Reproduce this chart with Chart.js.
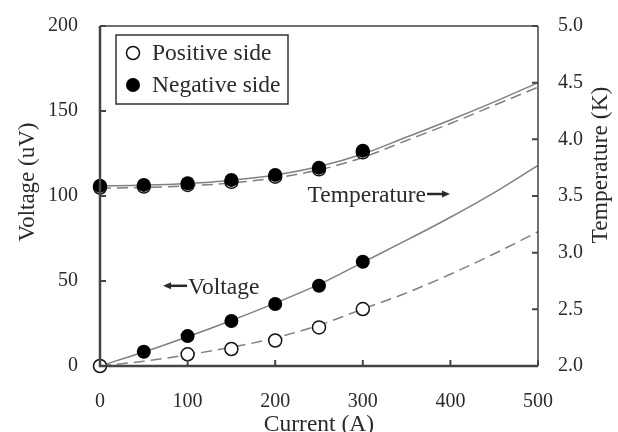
<!DOCTYPE html>
<html>
<head>
<meta charset="utf-8">
<script src="https://cdn.jsdelivr.net/npm/chart.js@4"></script>
<style>
  html, body { margin: 0; padding: 0; background: #fff; }
  #wrap { width: 618px; height: 432px; position: relative; }
</style>
</head>
<body>
<div id="wrap"><canvas id="myChart"></canvas></div>
<script>
// measured points
var currentPts = [0, 50, 100, 150, 200, 250, 300];
var negVoltage = [null, 8.4, 17.6, 26.5, 36.5, 47.2, 61.3];
var posVoltage = [0, null, 6.9, 10, 15, 22.7, 33.5];
var negTemp = [3.59, 3.598, 3.613, 3.642, 3.686, 3.75, 3.9];
var posTemp = [3.575, 3.583, 3.598, 3.625, 3.67, 3.735, 3.885];

// fitted curves
var currentFit = [0, 50, 100, 150, 200, 250, 300, 350, 400, 450, 500];
var negVoltFit = [0, 8.2, 17.2, 26.8, 37, 48, 61, 74, 87.5, 102, 118];
var posVoltFit = [0, 2.8, 6.6, 11, 16.5, 24, 33.5, 43, 54, 66, 79];
var negTempFit = [3.59, 3.595, 3.61, 3.64, 3.685, 3.76, 3.87, 4.02, 4.17, 4.33, 4.5];
var posTempFit = [3.57, 3.575, 3.59, 3.615, 3.66, 3.73, 3.84, 3.99, 4.14, 4.3, 4.46];

var xTicks = [0, 100, 200, 300, 400, 500];
var yTicks = [0, 50, 100, 150, 200];
var y2Ticks = [2.0, 2.5, 3.0, 3.5, 4.0, 4.5, 5.0];

var serif = '"Liberation Serif", "Times New Roman", serif';
var ink = '#2a2a2a';
var axisCol = '#444';
var curveCol = '#808080';

function pts(xs, ys) {
    var out = [];
    for (var i = 0; i < xs.length; i++) {
        if (ys[i] !== null) out.push({ x: xs[i], y: ys[i] });
    }
    return out;
}

function tickOpts(fmt, pad) {
    return {
        color: ink,
        font: { family: serif, size: 20 },
        autoSkip: false,
        maxRotation: 0,
        padding: pad,
        callback: function(v) { return fmt(v); }
    };
}

function noPad(s) {
    s.paddingTop = 0; s.paddingBottom = 0; s.paddingLeft = 0; s.paddingRight = 0;
}

function arrow(c, x0, x1, y) {
    var dir = x1 > x0 ? 1 : -1;
    c.beginPath();
    c.moveTo(x0, y); c.lineTo(x1 - dir * 5, y);
    c.lineWidth = 2.5;
    c.stroke();
    c.beginPath();
    c.moveTo(x1, y);
    c.lineTo(x1 - dir * 8, y - 3.5);
    c.lineTo(x1 - dir * 8, y + 3.5);
    c.closePath();
    c.fill();
}

function vText(c, text, x, y) {
    c.save();
    c.translate(x, y);
    c.rotate(-Math.PI / 2);
    c.textAlign = 'center';
    c.textBaseline = 'middle';
    c.fillText(text, 0, 0);
    c.restore();
}

// frame, inward ticks, legend box, axis titles and in-plot labels
var decor = {
    id: 'decor',
    afterDatasetsDraw: function(chart) {
        var c = chart.ctx, a = chart.chartArea;
        var sx = chart.scales.x, sy = chart.scales.y, s2 = chart.scales.y2;
        c.save();
        c.strokeStyle = axisCol;
        c.lineWidth = 1.5;
        c.beginPath();
        c.moveTo(a.left, a.top); c.lineTo(a.right, a.top);
        c.moveTo(a.right, a.top); c.lineTo(a.right, a.bottom);
        c.stroke();
        c.lineWidth = 2.5;
        c.beginPath();
        c.moveTo(a.left, a.top); c.lineTo(a.left, a.bottom); c.lineTo(a.right, a.bottom);
        c.stroke();

        c.lineWidth = 2;
        c.beginPath();
        xTicks.forEach(function(v) {
            var p = sx.getPixelForValue(v);
            c.moveTo(p, a.bottom); c.lineTo(p, a.bottom - 6);
        });
        yTicks.forEach(function(v) {
            var p = sy.getPixelForValue(v);
            c.moveTo(a.left, p); c.lineTo(a.left + 6, p);
        });
        y2Ticks.forEach(function(v) {
            var p = s2.getPixelForValue(v);
            c.moveTo(a.right, p); c.lineTo(a.right - 6, p);
        });
        c.stroke();

        // legend
        var lx = a.left + 16, ly = a.top + 9, lw = 172, lh = 69;
        c.lineWidth = 1.5;
        c.strokeStyle = '#333';
        c.strokeRect(lx, ly, lw, lh);
        c.font = '23.5px ' + serif;
        c.textBaseline = 'middle';
        c.textAlign = 'left';
        c.beginPath();
        c.arc(lx + 17, ly + 18, 6.5, 0, Math.PI * 2);
        c.fillStyle = '#fff'; c.fill();
        c.strokeStyle = '#111'; c.lineWidth = 1.5; c.stroke();
        c.fillStyle = ink;
        c.fillText('Positive side', lx + 36, ly + 19);
        c.beginPath();
        c.arc(lx + 17, ly + 50, 7, 0, Math.PI * 2);
        c.fillStyle = '#000'; c.fill();
        c.fillStyle = ink;
        c.fillText('Negative side', lx + 36, ly + 51);

        // in-plot labels
        c.strokeStyle = ink;
        c.fillStyle = ink;
        var tx = sx.getPixelForValue(237), ty = s2.getPixelForValue(3.5);
        c.fillText('Temperature', tx, ty);
        var tw = c.measureText('Temperature').width;
        arrow(c, tx + tw + 1, tx + tw + 24, ty - 2);
        var vx = sx.getPixelForValue(72), vy = sy.getPixelForValue(46);
        arrow(c, vx + 24, vx, vy - 2);
        c.fillText('Voltage', vx + 25, vy);

        // vertical axis titles, both reading bottom to top
        c.font = '23px ' + serif;
        vText(c, 'Voltage (uV)', 28, 182);
        c.font = '23.5px ' + serif;
        vText(c, 'Temperature (K)', 601, 165);
        c.restore();
    }
};

var ctx = document.getElementById('myChart').getContext('2d');

var myChart = new Chart(ctx, {
    type: 'scatter',
    data: {
        datasets: [
            {
                label: 'Positive side',
                data: pts(currentPts, posVoltage),
                yAxisID: 'y',
                pointRadius: 6.5,
                pointBackgroundColor: '#fff',
                pointBorderColor: '#111',
                pointBorderWidth: 1.5
            },
            {
                label: 'Negative side',
                data: pts(currentPts, negVoltage),
                yAxisID: 'y',
                pointRadius: 7,
                pointBackgroundColor: '#000',
                pointBorderColor: '#000',
                pointBorderWidth: 0
            },
            {
                label: 'Negative side T',
                data: pts(currentPts, negTemp),
                yAxisID: 'y2',
                pointRadius: 7,
                pointBackgroundColor: '#000',
                pointBorderColor: '#000',
                pointBorderWidth: 0
            },
            {
                label: 'Positive side T',
                data: pts(currentPts, posTemp),
                yAxisID: 'y2',
                pointRadius: 6.5,
                pointBackgroundColor: '#fff',
                pointBorderColor: '#111',
                pointBorderWidth: 1.5
            },
            {
                label: 'neg V fit',
                data: pts(currentFit, negVoltFit),
                yAxisID: 'y',
                showLine: true,
                pointRadius: 0,
                borderColor: curveCol,
                borderWidth: 1.5,
                cubicInterpolationMode: 'monotone'
            },
            {
                label: 'pos V fit',
                data: pts(currentFit, posVoltFit),
                yAxisID: 'y',
                showLine: true,
                pointRadius: 0,
                borderColor: curveCol,
                borderWidth: 1.5,
                borderDash: [11, 6],
                cubicInterpolationMode: 'monotone'
            },
            {
                label: 'neg T fit',
                data: pts(currentFit, negTempFit),
                yAxisID: 'y2',
                showLine: true,
                pointRadius: 0,
                borderColor: curveCol,
                borderWidth: 1.5,
                cubicInterpolationMode: 'monotone'
            },
            {
                label: 'pos T fit',
                data: pts(currentFit, posTempFit),
                yAxisID: 'y2',
                showLine: true,
                pointRadius: 0,
                borderColor: curveCol,
                borderWidth: 1.5,
                borderDash: [11, 6],
                cubicInterpolationMode: 'monotone'
            }
        ]
    },
    options: {
        responsive: true,
        maintainAspectRatio: false,
        animation: false,
        clip: false,
        layout: { padding: { left: 0, right: 0, top: 26, bottom: 0 } },
        scales: {
            x: {
                type: 'linear',
                min: 0,
                max: 500,
                afterBuildTicks: function(s) { s.ticks = xTicks.map(function(v) { return { value: v }; }); },
                afterFit: function(s) { s.height = 66; noPad(s); },
                ticks: tickOpts(function(v) { return String(v); }, 24),
                grid: { display: false, drawTicks: false },
                border: { display: false },
                title: {
                    display: true,
                    text: 'Current (A)',
                    color: ink,
                    font: { family: serif, size: 23.5 },
                    padding: { top: 0, bottom: -7 }
                }
            },
            y: {
                type: 'linear',
                position: 'left',
                min: 0,
                max: 200,
                afterBuildTicks: function(s) { s.ticks = yTicks.map(function(v) { return { value: v }; }); },
                afterFit: function(s) { s.width = 100; noPad(s); },
                ticks: tickOpts(function(v) { return String(v); }, 22),
                grid: { display: false, drawTicks: false },
                border: { display: false },
                title: { display: false }
            },
            y2: {
                type: 'linear',
                position: 'right',
                min: 2,
                max: 5,
                afterBuildTicks: function(s) { s.ticks = y2Ticks.map(function(v) { return { value: v }; }); },
                afterFit: function(s) { s.width = 80; noPad(s); },
                ticks: tickOpts(function(v) { return v.toFixed(1); }, 20),
                grid: { display: false, drawTicks: false },
                border: { display: false },
                title: { display: false }
            }
        },
        plugins: {
            legend: { display: false },
            tooltip: { enabled: false }
        }
    },
    plugins: [decor]
});
</script>
</body>
</html>
